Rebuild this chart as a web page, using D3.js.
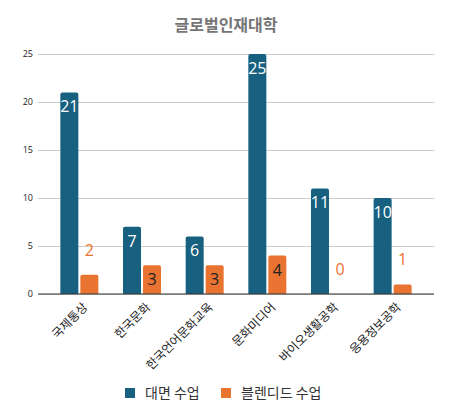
<!DOCTYPE html>
<html>
<head>
<meta charset="utf-8">
<script src="https://cdn.jsdelivr.net/npm/d3@7"></script>
<style>
  body { margin: 0; background: #fff; }
  svg { display: block; font-family: "Noto Sans CJK KR", "Open Sans", sans-serif; }
</style>
</head>
<body>
<div class="chart"></div>
<script>
var categories = ['국제통상', '한국문화', '한국언어문화교육', '문화미디어', '바이오생활공학', '응용정보공학'];
var seriesNames = ['대면 수업', '블렌디드 수업'];
var faceToFace = [21, 7, 6, 25, 11, 10];
var blended = [2, 3, 3, 4, 0, 1];
var yTicks = [0, 5, 10, 15, 20, 25];

var colors = ['#17607f', '#e97331'];

var svg = d3.select('.chart')
  .append('svg')
  .attr('width', 454)
  .attr('height', 419);

svg.append('text')
  .attr('x', 226)
  .attr('y', 31)
  .attr('text-anchor', 'middle')
  .attr('font-size', 16)
  .attr('font-weight', 'bold')
  .attr('fill', '#757575')
  .text('글로벌인재대학');

const xScale = d3.scaleBand()
  .domain(categories)
  .range([38, 434])
  .paddingInner(0)
  .paddingOuter(0.16);

const subScale = d3.scaleBand()
  .domain(seriesNames)
  .range([-19, 19])
  .paddingInner(0.1);

const yScale = d3.scaleLinear()
  .domain([0, 25])
  .range([294, 54]);

// gridlines + y labels
const yAxis = d3.axisLeft(yScale)
  .tickValues(yTicks)
  .tickSize(-396)
  .tickPadding(5);

var gy = svg.append('g')
  .attr('transform', 'translate(38,0)')
  .call(yAxis);
gy.select('.domain').remove();
gy.selectAll('.tick line').attr('stroke', '#cccccc');
gy.selectAll('.tick text')
  .attr('font-size', 9)
  .attr('fill', '#222')
  .attr('font-family', '"Open Sans", sans-serif');

var data = [];
categories.forEach(function (c, i) {
  data.push({ cat: c, s: 0, v: faceToFace[i] });
  data.push({ cat: c, s: 1, v: blended[i] });
});

function barPath(x, w, y0, y1, r) {
  var h = y0 - y1;
  if (h <= 0) return '';
  r = Math.min(r, h, w / 2);
  return 'M' + x + ',' + y0 +
    'V' + (y1 + r) +
    'Q' + x + ',' + y1 + ' ' + (x + r) + ',' + y1 +
    'H' + (x + w - r) +
    'Q' + (x + w) + ',' + y1 + ' ' + (x + w) + ',' + (y1 + r) +
    'V' + y0 + 'Z';
}

function barX(d) {
  return xScale(d.cat) + xScale.bandwidth() / 2 + subScale(seriesNames[d.s]);
}

svg.append('g')
  .selectAll('path')
  .data(data)
  .enter()
  .append('path')
  .attr('fill', function (d) { return colors[d.s]; })
  .attr('d', function (d) {
    return barPath(barX(d), subScale.bandwidth(), yScale(0), yScale(d.v), 2);
  });

// value labels
svg.append('g')
  .selectAll('text')
  .data(data)
  .enter()
  .append('text')
  .attr('text-anchor', 'middle')
  .attr('font-size', 16)
  .attr('font-family', '"Open Sans", sans-serif')
  .attr('x', function (d) { return barX(d) + subScale.bandwidth() / 2; })
  .attr('y', function (d) {
    var inside = yScale(0) - yScale(d.v) > 24;
    return inside ? yScale(d.v) + 20 : yScale(d.v) - 19;
  })
  .attr('fill', function (d) {
    var inside = yScale(0) - yScale(d.v) > 24;
    if (d.s === 0) return '#ffffff';
    return inside ? '#222222' : colors[1];
  })
  .text(function (d) { return d.v; });

// x axis
const xAxis = d3.axisBottom(xScale).tickSize(0).tickFormat('');
var gx = svg.append('g')
  .attr('transform', 'translate(0,294)')
  .call(xAxis);
gx.select('.domain').attr('stroke', '#333').attr('stroke-width', 1.2).attr('d', 'M38,0H434');

svg.append('g')
  .selectAll('text')
  .data(categories)
  .enter()
  .append('text')
  .attr('text-anchor', 'end')
  .attr('font-size', 12)
  .attr('fill', '#222')
  .attr('transform', function (d) {
    var cx = xScale(d) + xScale.bandwidth() / 2;
    return 'translate(' + (cx + 6) + ',305) rotate(-45)';
  })
  .attr('dy', '0.35em')
  .text(function (d) { return d; });

// legend
var legend = svg.append('g');
var legendX = [125, 221];
seriesNames.forEach(function (name, i) {
  legend.append('rect')
    .attr('x', legendX[i])
    .attr('y', 388)
    .attr('width', 10)
    .attr('height', 10)
    .attr('fill', colors[i]);
  legend.append('text')
    .attr('x', legendX[i] + 20)
    .attr('y', 398)
    .attr('font-size', 14)
    .attr('fill', '#333')
    .text(name);
});
</script>
</body>
</html>
